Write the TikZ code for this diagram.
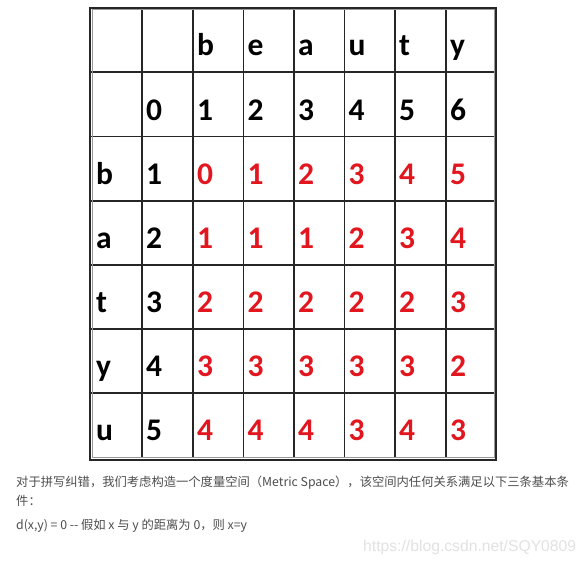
\documentclass[tikz,border=0pt]{standalone}
\usepackage{fontspec}
\setmainfont{Carlito}
\newfontfamily\cellfont{Carlito}
\newfontfamily\cjk{Noto Sans CJK SC}
\newfontfamily\wmfont{Liberation Sans}
\definecolor{cellred}{RGB}{226,22,30}
\definecolor{bodytext}{RGB}{77,77,77}
\definecolor{wmgray}{RGB}{226,226,226}
\tikzset{
  gridline/.style={line width=1.7pt, black!85},
  outerline/.style={line width=2pt, black!85},
  innerline/.style={line width=0.8pt, black!40},
  celltxt/.style={anchor=base west, inner sep=0pt, font=\cellfont\bfseries\fontsize{31.5}{31.5}\selectfont},
  blk/.style={celltxt, text=black},
  rd/.style={celltxt, text=cellred},
  para/.style={anchor=base west, inner sep=0pt, text=bodytext, font=\cjk\fontsize{12.3}{14}\selectfont},
}
\begin{document}
\begin{tikzpicture}[x=1pt,y=-1pt]
\useasboundingbox (0,0) rectangle (586,565);
\fill[white] (0,0) rectangle (586,565);
% grid
\foreach \xx in {142,193,243.5,294,344.5,395,446}
  \draw[gridline] (\xx,8) -- (\xx,458);
\foreach \yy in {72,136.5,201,265,329,393}
  \draw[gridline] (91,\yy) -- (495,\yy);
\draw[outerline] (90,7.5) rectangle (496,459.5);
\draw[innerline] (92,9.5) rectangle (494,457.3);
% header row
\def\colx{{90,142,193,243.5,294,344.5,395,446}}
\def\rowb{{72,136.5,201,265,329,393,457.3}}
\foreach \t [count=\i from 2] in {b,e,a,u,t,y}
  \node[blk] (h0\i) at ({\colx[\i]+4}, {\rowb[0]-17}) {\t};
\foreach \t [count=\i from 1] in {0,1,2,3,4,5,6}
  \node[blk] (h1\i) at ({\colx[\i]+4}, {\rowb[1]-16}) {\t};
% row labels
\foreach \t [count=\r from 2] in {b,a,t,y,u}
  \node[blk] (l\r) at ({\colx[0]+6}, {\rowb[\r]-16.5}) {\t};
\foreach \t [count=\r from 2] in {1,2,3,4,5}
  \node[blk] (n\r) at ({\colx[1]+4}, {\rowb[\r]-16.5}) {\t};
% values
\foreach \vals [count=\r from 2] in {{0,1,2,3,4,5},{1,1,1,2,3,4},{2,2,2,2,2,3},{3,3,3,3,3,2},{4,4,4,3,4,3}}
  \foreach \v [count=\c from 2] in \vals
    \node[rd] (v\r\c) at ({\colx[\c]+4}, {\rowb[\r]-16.5}) {\v};
% paragraph
\node[para] (p1) at (16,486) {对于拼写纠错，我们考虑构造一个度量空间（Metric Space），该空间内任何关系满足以下三条基本条};
\node[para] (p2) at (16,505.5) {件：};
\node[para] (p3) at (16,529) {d(x,y) = 0 -{}- 假如 x 与 y 的距离为 0，则 x=y};
% watermark
\node[anchor=base west, inner sep=0pt, text=wmgray, font=\wmfont\fontsize{15.7}{16}\selectfont] (wm) at (363,551.7) {https://blog.csdn.net/SQY0809};
\end{tikzpicture}
\end{document}
